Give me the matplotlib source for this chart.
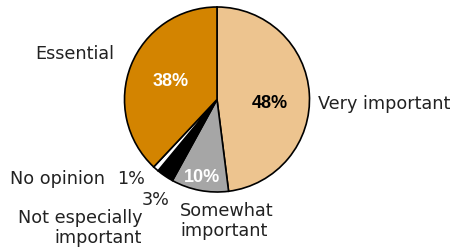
import matplotlib.pyplot as plt

labels = ["Very important", "Somewhat\nimportant", "Not especially\nimportant", "No opinion", "Essential"]
values = [48, 10, 3, 1, 38]
colors = ["#EDC48F", "#A6A6A6", "#000000", "#FFFFFF", "#D38400"]

W, H = 453, 250
fig = plt.figure(figsize=(W / 100, H / 100), dpi=100)
ax = fig.add_axes([0, 0, 1, 1])

cx, cy, r = 217, H - 99.5, 92.5
wedges, _ = ax.pie(values, colors=colors, startangle=90, counterclock=False,
                   center=(cx, cy), radius=r,
                   wedgeprops=dict(edgecolor="black", linewidth=1.2))
ax.set_xlim(0, W)
ax.set_ylim(0, H)
ax.set_aspect("equal")
ax.axis("off")

lab_font = dict(family="DejaVu Sans", fontsize=12.7, color="#222222")
pct_font = dict(family="Liberation Sans", fontsize=13, fontweight="bold")
small_pct = dict(family="DejaVu Sans", fontsize=12.7, color="#222222")

# category labels (pixel positions from the reference)
ax.text(318, H - 104, labels[0], ha="left", va="center", **lab_font)
ax.text(180, H - 221, labels[1], ha="left", va="center", linespacing=1.2, **lab_font)
ax.text(142, H - 228, labels[2], ha="right", va="center", linespacing=1.2, **lab_font)
ax.text(10, H - 179, labels[3], ha="left", va="center", **lab_font)
ax.text(75, H - 54, labels[4], ha="center", va="center", **lab_font)

# percentages
ax.text(270, H - 104, f"{values[0]}%", ha="center", va="center", color="black", **pct_font)
ax.text(202, H - 178, f"{values[1]}%", ha="center", va="center", color="white", **pct_font)
ax.text(156, H - 200, f"{values[2]}%", ha="center", va="center", **small_pct)
ax.text(131, H - 179, f"{values[3]}%", ha="center", va="center", **small_pct)
ax.text(171, H - 81, f"{values[4]}%", ha="center", va="center", color="white", **pct_font)

fig.savefig("out.png", dpi=100)
